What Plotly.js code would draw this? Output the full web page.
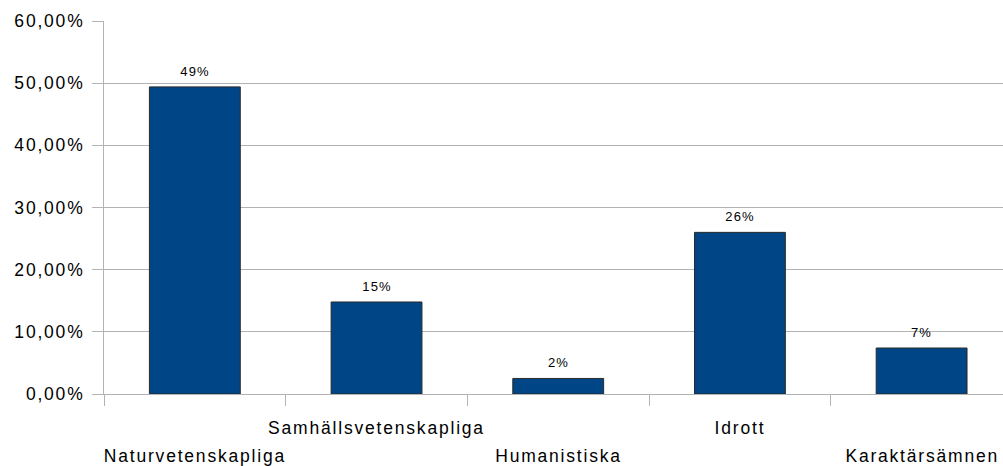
<!DOCTYPE html>
<html>
<head>
<meta charset="utf-8">
<script src="https://cdn.plot.ly/plotly-3.0.1.min.js"></script>
<style>
html,body{margin:0;padding:0;background:#fff;}
#chart{width:1003px;height:466px;}
</style>
</head>
<body>
<div id="chart"></div>
<script>
const categories = ['Naturvetenskapliga','Samhällsvetenskapliga','Humanistiska','Idrott','Karaktärsämnen'];
const values = [49.4, 14.8, 2.5, 26.0, 7.4];
const valueLabels = ['49%','15%','2%','26%','7%'];
const yTickVals = [0,10,20,30,40,50,60];
const yTickText = ['0,00%','10,00%','20,00%','30,00%','40,00%','50,00%','60,00%'];

const FONT = 'Liberation Sans, Arial, sans-serif';
const GRID = '#b3b3b3';

const trace = {
  type: 'bar',
  x: categories,
  y: values,
  marker: {color: '#004586', line: {color: '#2a2a2a', width: 1}},
  hoverinfo: 'skip'
};

const annotations = [];
categories.forEach((c, i) => {
  annotations.push({
    x: c, y: values[i], xref: 'x', yref: 'y',
    text: valueLabels[i], showarrow: false,
    yanchor: 'bottom', xanchor: 'center', yshift: 6,
    font: {family: FONT, size: 13, color: '#000'}
  });
});
categories.forEach((c, i) => {
  annotations.push({
    x: c, y: 0, xref: 'x', yref: 'y',
    text: c, showarrow: false,
    yanchor: 'top', xanchor: 'center', yshift: (i % 2 === 0) ? -50 : -22,
    font: {family: FONT, size: 17.5, color: '#000'}
  });
});

const layout = {
  width: 1003, height: 466,
  margin: {l: 104, r: 0, t: 21, b: 72},
  paper_bgcolor: '#fff', plot_bgcolor: '#fff',
  showlegend: false,
  bargap: 0.5,
  xaxis: {
    type: 'category',
    range: [-0.5, 4.448],
    showgrid: false,
    showticklabels: false,
    ticks: 'outside', tickson: 'boundaries', ticklen: 11, tickwidth: 1, tickcolor: GRID,
    showline: true, linecolor: GRID, linewidth: 1,
    zeroline: false
  },
  yaxis: {
    range: [0, 60],
    tickvals: yTickVals, ticktext: yTickText,
    ticks: 'outside', ticklen: 11, tickwidth: 1, tickcolor: GRID,
    showgrid: true, gridcolor: GRID, gridwidth: 1,
    showline: true, linecolor: GRID, linewidth: 1,
    zeroline: false,
    ticklabelstandoff: 4,
    tickfont: {family: FONT, size: 17.5, color: '#000'}
  },
  annotations: annotations
};

Plotly.newPlot('chart', [trace], layout, {displayModeBar: false, staticPlot: true}).then(() => {
  document.querySelectorAll('.annotation-text').forEach(t => {
    const fs = parseFloat(t.style.fontSize);
    t.style.letterSpacing = fs > 15 ? '1.8px' : '1.1px';
  });
  document.querySelectorAll('.ytick text').forEach(t => {
    t.style.letterSpacing = '1.8px';
  });
});
</script>
</body>
</html>
